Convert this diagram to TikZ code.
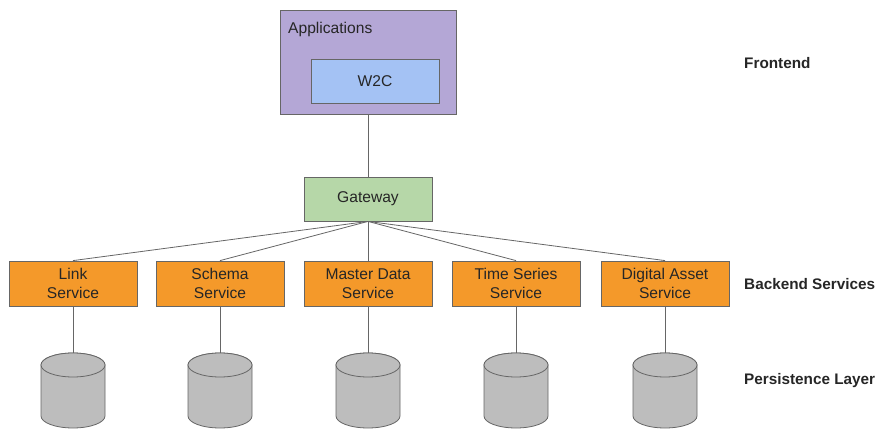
\documentclass[tikz,border=0pt]{standalone}
\usepackage{fontspec}
\setmainfont{Liberation Sans}
\begin{document}
\begin{tikzpicture}[x=1pt,y=1pt,
  box/.style={draw=black!60, line width=0.8pt, inner sep=0pt, font=\fontsize{15.6}{19.5}\selectfont, text=black!85, align=center},
  svc/.style={box, fill=svcor, minimum width=128pt, minimum height=45pt},
  conn/.style={draw=black!60, line width=0.8pt},
  lbl/.style={anchor=west, inner sep=0pt, font=\bfseries\fontsize{15.3}{18}\selectfont, text=black!85},
  db/.style={draw=black!60, line width=0.8pt, fill=dbgray}
]
\definecolor{svcor}{HTML}{F4992A}
\definecolor{appv}{HTML}{B4A7D6}
\definecolor{w2cb}{HTML}{A4C2F4}
\definecolor{gwg}{HTML}{B6D7A8}
\definecolor{dbgray}{HTML}{BDBDBD}
\useasboundingbox (0,0) rectangle (880,429);

\node[box, fill=appv, minimum width=176pt, minimum height=104pt] (app) at (368,367) {};
\node[box, fill=w2cb, minimum width=128pt, minimum height=44pt] (w2c) at (375,348) {W2C};
\node[anchor=west, inner sep=0pt, font=\fontsize{15.6}{19}\selectfont, text=black!85] (apptxt) at (288,400) {Applications};

\node[box, fill=gwg, minimum width=128pt, minimum height=44pt] (gw) at (368,230) {Gateway};

\node[svc] (s1) at (73,145.5) {Link\\Service};
\node[svc] (s2) at (220,145.5) {Schema\\Service};
\node[svc] (s3) at (368,145.5) {Master Data\\Service};
\node[svc] (s4) at (516,145.5) {Time Series\\Service};
\node[svc] (s5) at (665,145.5) {Digital Asset\\Service};

\draw[conn] (app.south) -- (gw.north);
\foreach \i in {1,...,5} {
  \draw[conn] (gw.south) -- (s\i.north);
}

\foreach \i/\cx in {1/73,2/220,3/368,4/516,5/665} {
  \coordinate (d\i) at (\cx,76);
  \draw[db] (\cx-32,64) -- (\cx-32,13) arc[start angle=180,end angle=360,x radius=32,y radius=12] -- (\cx+32,64) arc[start angle=0,end angle=180,x radius=32,y radius=12] -- cycle;
  \draw[db] (\cx,64) ellipse[x radius=32,y radius=12];
  \draw[conn] (s\i.south) -- (d\i);
}

\node[lbl] (lf) at (744,366) {Frontend};
\node[lbl] (lb) at (744,145) {Backend Services};
\node[lbl] (lp) at (744,48) {Persistence Layer};
\end{tikzpicture}
\end{document}
